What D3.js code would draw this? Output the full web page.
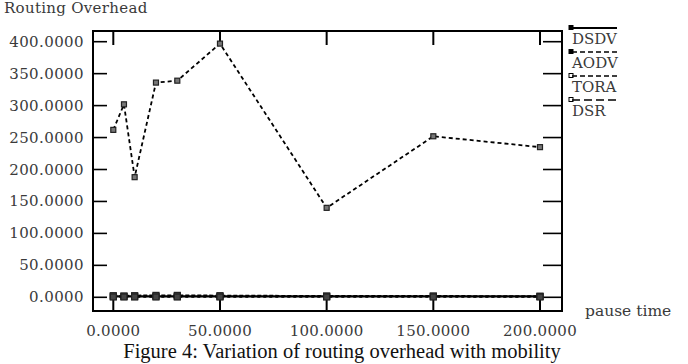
<!DOCTYPE html>
<head>
    <title>Routing overhead</title>
    <style>
      body { margin: 0; background: #fff; }
      text { font-family: "DejaVu Serif", "Liberation Serif", serif; }
      text.caption { font-family: "Liberation Serif", serif; }
    </style>
</head>
<body>
<script src="https://cdn.jsdelivr.net/npm/d3@7"></script>
<script>

// pause times (x axis)
const pauseTimes = [0, 5, 10, 20, 30, 50, 100, 150, 200]

// routing overhead per protocol
const dsdv = [1.5, 1.5, 1.5, 1.5, 1.5, 1.5, 1.5, 1.5, 1.5]
const aodv = [2.5, 2.0, 2.5, 3.0, 3.0, 2.5, 2.0, 2.0, 1.5]
const tora = [0.5, 0.5, 0.5, 0.5, 0.5, 0.5, 0.5, 0.5, 0.5]
const dsr  = [262, 302, 188, 336, 339, 397, 140, 252, 235]

const protocols = ["DSDV", "AODV", "TORA", "DSR"]
const yTicks = [0, 50, 100, 150, 200, 250, 300, 350, 400]
const xTicks = [0, 50, 100, 150, 200]

const width = 688
const height = 364
const plotLeft = 93
const plotRight = 562
const plotTop = 31
const plotBottom = 311

let svg = d3.select("body").append("svg")
    .attr("width", width)
    .attr("height", height)

const x = d3.scaleLinear().domain([0, 200]).range([113.3, 540])
const y = d3.scaleLinear().domain([0, 400]).range([297.3, 41.7])

const tickLen = 14

// frame
svg.append("rect")
    .attr("x", plotLeft).attr("y", plotTop)
    .attr("width", plotRight - plotLeft).attr("height", plotBottom - plotTop)
    .attr("fill", "none").attr("stroke", "black").attr("stroke-width", 2)

// y ticks, inside on left and right
svg.selectAll("line.ytl").data(yTicks).join("line")
    .attr("x1", plotLeft).attr("x2", plotLeft + tickLen)
    .attr("y1", d => y(d)).attr("y2", d => y(d))
    .attr("stroke", "black").attr("stroke-width", 1.6)
svg.selectAll("line.ytr").data(yTicks).join("line")
    .attr("x1", plotRight - 19).attr("x2", plotRight)
    .attr("y1", d => y(d)).attr("y2", d => y(d))
    .attr("stroke", "black").attr("stroke-width", 1.6)

// x ticks, inside on bottom and top
svg.selectAll("line.xtb").data(xTicks).join("line")
    .attr("x1", d => x(d)).attr("x2", d => x(d))
    .attr("y1", plotBottom).attr("y2", plotBottom - tickLen)
    .attr("stroke", "black").attr("stroke-width", 2)
svg.selectAll("line.xtt").data(xTicks).join("line")
    .attr("x1", d => x(d)).attr("x2", d => x(d))
    .attr("y1", plotTop).attr("y2", plotTop + tickLen)
    .attr("stroke", "black").attr("stroke-width", 2)

// tick labels
svg.selectAll("text.ylab").data(yTicks).join("text")
    .attr("x", 84).attr("y", d => y(d) + 5)
    .attr("text-anchor", "end")
    .attr("font-size", 15).attr("fill", "#3a3a3a")
    .attr("letter-spacing", 0.4)
    .text(d => d.toFixed(4))
svg.selectAll("text.xlab").data(xTicks).join("text")
    .attr("x", d => x(d)).attr("y", 336)
    .attr("text-anchor", "middle")
    .attr("font-size", 15).attr("fill", "#3a3a3a")
    .attr("letter-spacing", 0.3)
    .text(d => d.toFixed(4))

svg.append("text").attr("x", 4).attr("y", 13)
    .attr("font-size", 15).attr("fill", "#3a3a3a")
    .attr("letter-spacing", 0.3)
    .text("Routing Overhead")
svg.append("text").attr("x", 585).attr("y", 316)
    .attr("font-size", 15.5).attr("fill", "#3a3a3a")
    .text("pause time")
svg.append("text").attr("class", "caption")
    .attr("x", 342).attr("y", 358)
    .attr("text-anchor", "middle")
    .attr("font-size", 20.5).attr("fill", "#111")
    .text("Figure 4: Variation of routing overhead with mobility")

// series
const series = [
  { name: "DSDV", values: dsdv, dash: null, width: 2.2 },
  { name: "AODV", values: aodv, dash: "4,2", width: 2 },
  { name: "TORA", values: tora, dash: "3,3", width: 1.6 },
  { name: "DSR",  values: dsr,  dash: "4,3", width: 1.8 }
]

const line = d3.line()
    .x((d, i) => x(pauseTimes[i]))
    .y(d => y(d))

series.forEach(s => {
  svg.append("path")
      .datum(s.values)
      .attr("d", line)
      .attr("fill", "none")
      .attr("stroke", "black")
      .attr("stroke-width", s.width)
      .attr("stroke-dasharray", s.dash)
  const size = s.name === "DSR" ? 5 : 6
  svg.selectAll(null).data(s.values).join("rect")
      .attr("x", (d, i) => x(pauseTimes[i]) - size / 2)
      .attr("y", d => y(d) - size / 2)
      .attr("width", size).attr("height", size)
      .attr("fill", s.name === "DSR" ? "#777" : "#444")
      .attr("stroke", "#222").attr("stroke-width", 1.2)
})

// legend
const legendY = d3.scalePoint().domain(protocols).range([28, 100])
series.forEach(s => {
  const ly = legendY(s.name)
  svg.append("rect")
      .attr("x", 569).attr("y", ly - 2.5)
      .attr("width", 4).attr("height", 4)
      .attr("fill", s.name === "TORA" || s.name === "DSR" ? "#fff" : "#000")
      .attr("stroke", "#000").attr("stroke-width", 1)
  svg.append("line")
      .attr("x1", 572).attr("x2", 617)
      .attr("y1", ly).attr("y2", ly)
      .attr("stroke", "black")
      .attr("stroke-width", s.name === "DSDV" ? 2 : 1.3)
      .attr("stroke-dasharray", s.name === "DSDV" ? null : (s.name === "DSR" ? "8,4" : "5,3"))
  svg.append("text")
      .attr("x", 572).attr("y", ly + 16)
      .attr("font-size", 15).attr("fill", "#3a3a3a")
      .text(s.name)
})

</script>
</body>
